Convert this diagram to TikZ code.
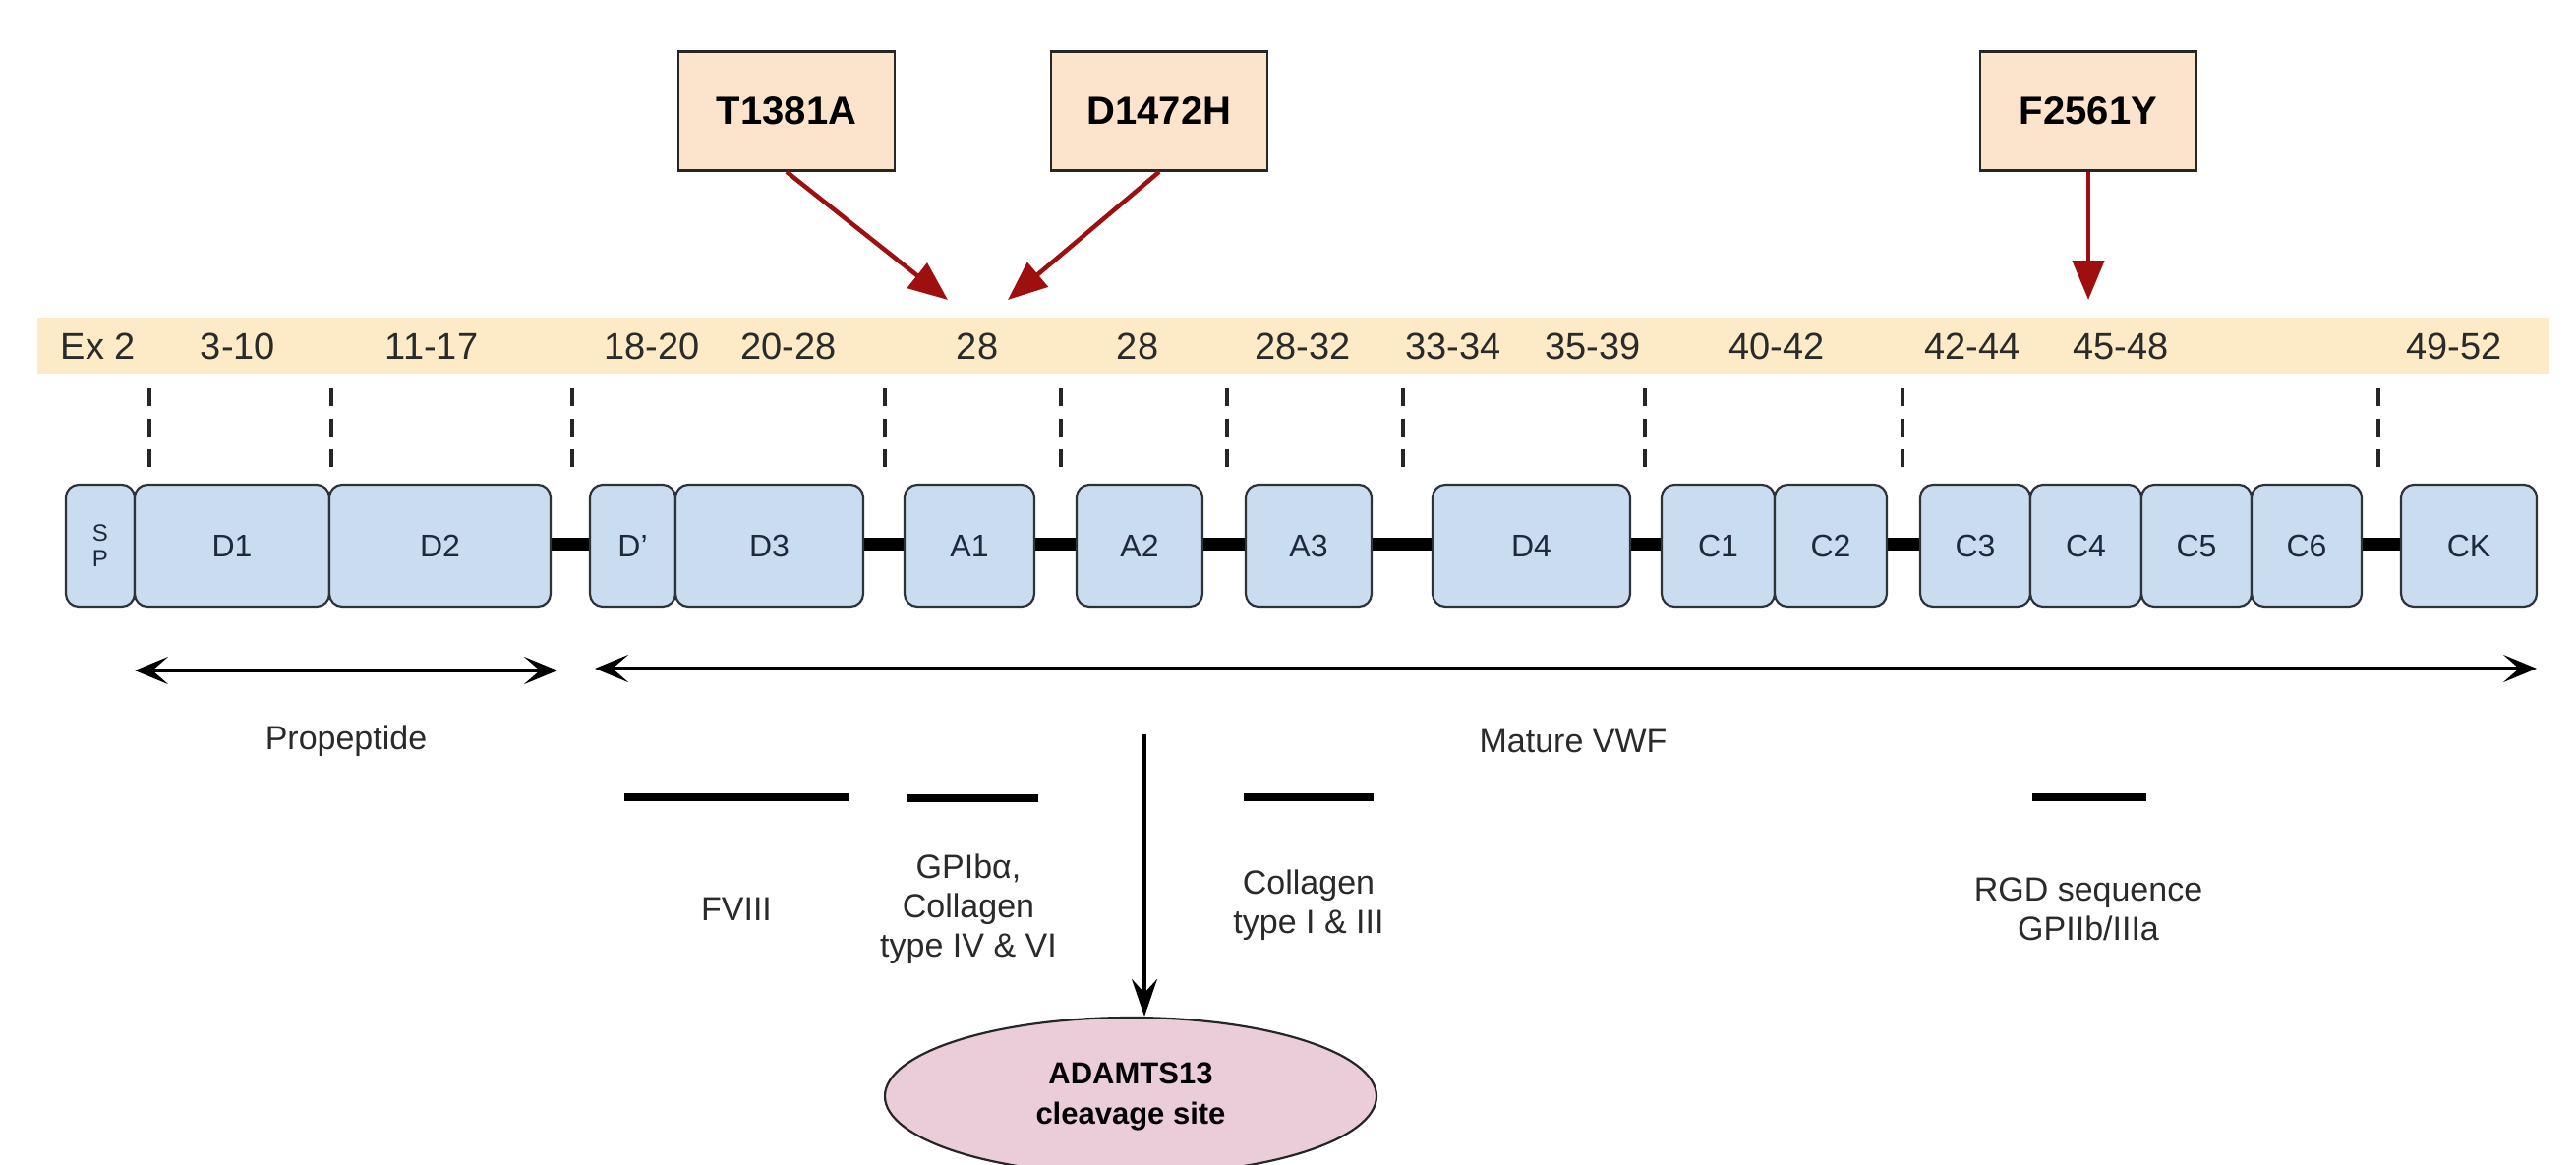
\documentclass[tikz,border=0pt]{standalone}
\usepackage{fontspec}
\setmainfont{Liberation Sans}
\usetikzlibrary{arrows.meta,shapes.geometric}
\definecolor{bandc}{HTML}{FCEBC6}
\definecolor{domfill}{HTML}{CADCF0}
\definecolor{domline}{HTML}{2E3338}
\definecolor{domtext}{HTML}{1E2A3A}
\definecolor{mutfill}{HTML}{FBE3CC}
\definecolor{ellfill}{HTML}{EACDD9}
\definecolor{redarr}{HTML}{9E1010}
\definecolor{lbl}{HTML}{2A2A2A}
\begin{document}
\begin{tikzpicture}[x=1pt,y=-1pt,
  band/.style={fill=bandc, draw=none, minimum width=2555pt, minimum height=57pt, inner sep=0pt},
  exlbl/.style={text=lbl, font=\fontsize{38}{44}\selectfont, inner sep=0pt},
  dom/.style={draw=domline, fill=domfill, rounded corners=13pt, line width=2.2pt, minimum height=124pt, inner sep=0pt, text=domtext, font=\fontsize{32}{38}\selectfont},
  linker/.style={line width=13pt, black},
  exdash/.style={line width=4pt, dash pattern=on 18pt off 13pt, black!85},
  mut/.style={draw=black!85, fill=mutfill, line width=2.5pt, minimum width=220pt, minimum height=121pt, inner sep=0pt, font=\bfseries\fontsize{40}{46}\selectfont},
  redarrow/.style={draw=redarr, line width=4.5pt, -{Triangle[length=40pt,width=32pt]}},
  span/.style={line width=4pt, {Stealth[length=34pt,width=28pt,inset=16pt]}-{Stealth[length=34pt,width=28pt,inset=16pt]}},
  bindbar/.style={line width=8pt, black},
  bot/.style={text=lbl, font=\fontsize{34}{40}\selectfont, align=center, inner sep=0pt},
  ell/.style={ellipse, draw=black!85, fill=ellfill, line width=2.2pt, minimum width=500pt, minimum height=160pt, inner sep=0pt, align=center, font=\bfseries\fontsize{31}{41}\selectfont}
]
\useasboundingbox (0,0) rectangle (2620,1184);
\fill[white] (0,0) rectangle (2620,1184);

% mutation boxes
\node[mut] (mA) at (800,113) {T1381A};
\node[mut] (mB) at (1179,113) {D1472H};
\node[mut] (mC) at (2124,113) {F2561Y};
\coordinate (tA) at (964,305);
\coordinate (tB) at (1025,305);
\coordinate (tC) at (2124,305);
\draw[redarrow] (mA.south) -- (tA);
\draw[redarrow] (mB.south) -- (tB);
\draw[redarrow] (mC.south) -- (tC);

% exon band
\node[band] (band) at (1315.5,351.5) {};
\foreach \n/\x/\t in {e1/100/Ex 2, e2/242/3-10, e3/439/11-17, e4/663/18-20, e5/802/20-28, e6/994/28, e7/1157/28, e8/1325/28-32, e9/1478/33-34, e10/1620/35-39, e11/1807/40-42, e12/2006/42-44, e13/2157/45-48, e14/2496/49-52}
  \node[exlbl] (\n) at (\x,352) {\t};

% dashed exon borders
\foreach \i/\x in {1/152,2/337,3/582,4/900,5/1079,6/1248,7/1427,8/1673,9/1935,10/2419}{
  \coordinate (dt\i) at (\x,395);
  \coordinate (db\i) at (\x,475);
  \draw[exdash] (dt\i) -- (db\i);
}

% linkers (drawn first, under boxes)
\coordinate (L1a) at (560,553.5); \coordinate (L1b) at (600,553.5);
\coordinate (L2a) at (878,553.5); \coordinate (L2b) at (920,553.5);
\coordinate (L3a) at (1052,553.5); \coordinate (L3b) at (1095,553.5);
\coordinate (L4a) at (1223,553.5); \coordinate (L4b) at (1267,553.5);
\coordinate (L5a) at (1395,553.5); \coordinate (L5b) at (1457,553.5);
\coordinate (L6a) at (1658,553.5); \coordinate (L6b) at (1690,553.5);
\coordinate (L7a) at (1919,553.5); \coordinate (L7b) at (1953,553.5);
\coordinate (L8a) at (2402,553.5); \coordinate (L8b) at (2442,553.5);
\foreach \k in {1,...,8} \draw[linker] (L\k a) -- (L\k b);

% domains
\node[dom, minimum width=70pt, align=center, font=\fontsize{24}{26}\selectfont] (SP) at (102,555) {S\\P};
\node[dom, minimum width=198pt] (D1) at (236,555) {D1};
\node[dom, minimum width=225pt] (D2) at (447.5,555) {D2};
\node[dom, minimum width=87pt] (Dp) at (643.5,555) {D'};
\node[dom, minimum width=191pt] (D3) at (782.5,555) {D3};
\node[dom, minimum width=132pt] (A1) at (986,555) {A1};
\node[dom, minimum width=128pt] (A2) at (1159,555) {A2};
\node[dom, minimum width=128pt] (A3) at (1331,555) {A3};
\node[dom, minimum width=201pt] (D4) at (1557.5,555) {D4};
\node[dom, minimum width=115pt] (C1) at (1747.5,555) {C1};
\node[dom, minimum width=114pt] (C2) at (1862,555) {C2};
\node[dom, minimum width=112pt] (C3) at (2009,555) {C3};
\node[dom, minimum width=113pt] (C4) at (2121.5,555) {C4};
\node[dom, minimum width=112pt] (C5) at (2234,555) {C5};
\node[dom, minimum width=112pt] (C6) at (2346,555) {C6};
\node[dom, minimum width=138pt] (CK) at (2511,555) {CK};

% spans
\coordinate (pL) at (137,682); \coordinate (pR) at (567,682);
\coordinate (qL) at (605,680); \coordinate (qR) at (2580,680);
\draw[span] (pL) -- (pR);
\draw[span] (qL) -- (qR);
\node[bot] (prop) at (352,754) {Propeptide};
\node[bot] (mat) at (1600,754) {Mature VWF};

% binding bars
\coordinate (f1) at (635,811); \coordinate (f2) at (864,811);
\coordinate (g1) at (922,812); \coordinate (g2) at (1056,812);
\coordinate (c1) at (1265,811); \coordinate (c2) at (1397,811);
\coordinate (r1) at (2067,811); \coordinate (r2) at (2183,811);
\draw[bindbar] (f1) -- (f2);
\draw[bindbar] (g1) -- (g2);
\draw[bindbar] (c1) -- (c2);
\draw[bindbar] (r1) -- (r2);
\node[bot] (fviii) at (749,925) {FVIII};
\node[bot] (gpib) at (985,925) {GPIbα,\\Collagen\\type IV \& VI};
\node[bot] (col) at (1331,921) {Collagen\\type I \& III};
\node[bot] (rgd) at (2124,925) {RGD sequence\\GPIIb/IIIa};

% ADAMTS13
\node[ell] (adam) at (1150,1115) {ADAMTS13\\cleavage site};
\coordinate (cs) at (1164,747);
\draw[line width=3.5pt, -{Stealth[length=38pt,width=26pt,inset=14pt]}] (cs) -- (cs |- adam.north);
\end{tikzpicture}
\end{document}
